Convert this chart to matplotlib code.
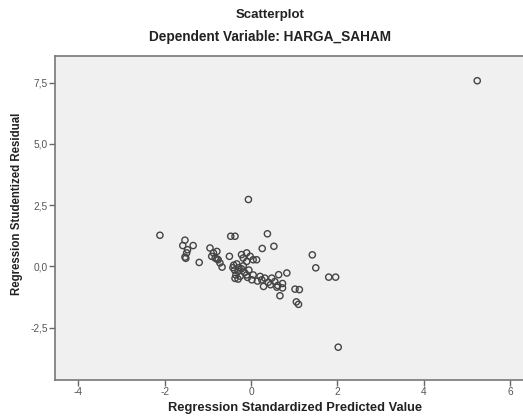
import matplotlib
matplotlib.use("Agg")
import matplotlib.pyplot as plt
from matplotlib.ticker import FuncFormatter

pred = [5.24, 2.02, -0.06, -2.11,
        -1.53, -1.34, -1.58, -1.47, -1.49, -1.53, -1.51, -1.20,
        -0.95, -0.87, -0.91, -0.79, -0.83, -0.76, -0.72, -0.67, -0.79,
        -0.47, -0.37, 0.38, 0.26, 0.53, -0.50, -0.22, -0.10, -0.02, 0.05, 0.13, -0.18, -0.10,
        -0.40, -0.33, -0.28, -0.38, -0.30, -0.22, -0.15, -0.35, -0.25, -0.37, -0.10, 0.02,
        -0.05, -0.18, -0.42, -0.08, -0.30, 0.05,
        0.21, 0.32, 0.48, 0.29, 0.40, 0.45, 0.64, 0.83, 0.55, 0.62, 0.73, 0.73, 0.60,
        1.02, 1.12, 0.67, 1.05, 1.10, 0.15, 0.25,
        1.42, 1.50, 1.80, 1.96]
resid = [7.58, -3.30, 2.73, 1.27,
         1.07, 0.85, 0.85, 0.68, 0.55, 0.38, 0.33, 0.16,
         0.75, 0.55, 0.41, 0.61, 0.34, 0.27, 0.14, -0.03, 0.30,
         1.23, 1.23, 1.33, 0.73, 0.82, 0.41, 0.48, 0.55, 0.41, 0.27, 0.27, 0.34, 0.20,
         0.05, 0.10, -0.05, -0.15, -0.20, -0.10, -0.25, -0.35, -0.40, -0.49, -0.35, -0.55,
         -0.15, 0.02, -0.05, -0.45, -0.52, -0.35,
         -0.41, -0.48, -0.48, -0.82, -0.65, -0.75, -0.34, -0.27, -0.62, -0.78, -0.70, -0.88, -0.85,
         -0.93, -0.95, -1.20, -1.45, -1.55, -0.60, -0.55,
         0.47, -0.06, -0.44, -0.44]

xticks = [-4, -2, 0, 2, 4, 6]
yticks = [-2.5, 0.0, 2.5, 5.0, 7.5]

plt.rcParams['font.family'] = ['Liberation Sans', 'DejaVu Sans']

fig = plt.figure(figsize=(5.23, 4.18), dpi=100)
ax = fig.add_axes([55/523, 1-380/418, 1-55/523, (380-56)/418])
ax.set_facecolor('#f0f0f0')

ax.scatter(pred, resid, s=20, facecolors='none', edgecolors='#444444', linewidths=1.0, zorder=3)

ax.set_xlim(-4.54, 6.30)
ax.set_ylim(-4.64, 8.59)
ax.set_xticks(xticks)
ax.set_yticks(yticks)
ax.xaxis.set_major_formatter(FuncFormatter(lambda v, p: f"{int(v)}"))
ax.yaxis.set_major_formatter(FuncFormatter(lambda v, p: f"{v:.1f}".replace('.', ',')))
ax.tick_params(axis='both', direction='out', length=4, width=1, color='#666666',
               labelsize=7.3, labelcolor='#555555', pad=1)

for s in ['left', 'bottom', 'top']:
    ax.spines[s].set_color('#777777')
    ax.spines[s].set_linewidth(1.2)
ax.spines['right'].set_visible(False)

ax.set_xlabel('Regression Standardized Predicted Value', fontsize=9.3, fontweight='bold', color='#222222')
ax.xaxis.set_label_coords((295 - 55) / (523 - 55), -(408 - 380) / (380 - 56))
ax.xaxis.label.set_va('center')
ax.set_ylabel('Regression Studentized Residual', fontsize=8.3, fontweight='bold', color='#222222')
ax.yaxis.set_label_coords(-(55 - 17) / (523 - 55), (380 - 204) / (380 - 56))
ax.yaxis.label.set_va('center')

fig.text(0.516, 1-15/418, 'Scatterplot', ha='center', va='center', fontsize=9.5, fontweight='bold', color='#222222')
fig.text(0.517, 1-37/418, 'Dependent Variable: HARGA_SAHAM', ha='center', va='center', fontsize=9.8, fontweight='bold', color='#222222')

fig.savefig('out.png', dpi=100)
